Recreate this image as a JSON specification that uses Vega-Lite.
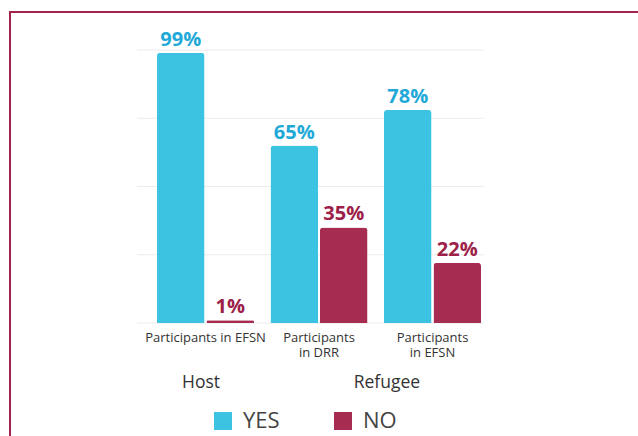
{
  "$schema": "https://vega.github.io/schema/vega-lite/v6.json",
  "width": 640,
  "height": 440,
  "padding": {"left": 10, "top": 12, "right": 0, "bottom": 0},
  "background": "white",
  "config": {
    "view": {"stroke": "#A2244B", "strokeWidth": 2},
    "font": "Open Sans",
    "text": {"font": "Open Sans"}
  },
  "datasets": {
    "bars": [
      {"cat": "Host EFSN", "series": "YES", "value": 99, "label": "99%"},
      {"cat": "Host EFSN", "series": "NO", "value": 1, "label": "1%"},
      {"cat": "Refugee DRR", "series": "YES", "value": 65, "label": "65%"},
      {"cat": "Refugee DRR", "series": "NO", "value": 35, "label": "35%"},
      {"cat": "Refugee EFSN", "series": "YES", "value": 78, "label": "78%"},
      {"cat": "Refugee EFSN", "series": "NO", "value": 22, "label": "22%"}
    ],
    "grid": [{"g": 0}, {"g": 25}, {"g": 50}, {"g": 75}, {"g": 100}],
    "cats": [
      {"cat": "Host EFSN", "name": "Participants in EFSN"},
      {"cat": "Refugee DRR", "name": "Participants\nin DRR"},
      {"cat": "Refugee EFSN", "name": "Participants\nin EFSN"}
    ],
    "host": [{"cat": "Host EFSN", "t": "Host"}],
    "refugee": [{"cat": "Refugee DRR", "t": "Refugee"}]
  },
  "encoding": {
    "x": {
      "field": "cat",
      "type": "nominal",
      "axis": null,
      "scale": {
        "domain": ["Host EFSN", "Refugee DRR", "Refugee EFSN"],
        "range": [147, 471],
        "paddingInner": 0.1454,
        "paddingOuter": 0
      }
    }
  },
  "layer": [
    {
      "data": {"name": "grid"},
      "mark": {"type": "rule", "color": "#ececec", "strokeWidth": 1, "xOffset": -20, "x2Offset": 3},
      "encoding": {
        "x": {"datum": "Host EFSN", "type": "nominal", "bandPosition": 0},
        "x2": {"datum": "Refugee EFSN", "bandPosition": 1},
        "y": {"field": "g", "type": "quantitative", "axis": null, "scale": {"domain": [-47.25, 113.92], "nice": false, "zero": false}}
      }
    },
    {
      "data": {"name": "bars"},
      "mark": {"type": "bar", "cornerRadiusTopLeft": 3, "cornerRadiusTopRight": 3},
      "encoding": {
        "xOffset": {"field": "series", "type": "nominal", "sort": ["YES", "NO"], "scale": {"paddingInner": 0.04}},
        "y": {"field": "value", "type": "quantitative"},
        "color": {
          "field": "series",
          "type": "nominal",
          "sort": ["YES", "NO"],
          "scale": {"domain": ["YES", "NO"], "range": ["#3CC3E1", "#A62C51"]},
          "legend": {
            "title": null,
            "orient": "none",
            "direction": "horizontal",
            "legendX": 202,
            "legendY": 398,
            "symbolType": "square",
            "symbolSize": 324,
            "symbolStrokeWidth": 0,
            "labelFontSize": 22,
            "labelColor": "#444444",
            "labelFont": "Open Sans",
            "labelOffset": 9,
            "columnPadding": 52,
            "padding": 0,
            "encode": {
              "symbols": {"update": {"fill": {"signal": "datum.value === 'YES' ? '#02AAD6' : '#8E1839'"}}}
            }
          }
        }
      }
    },
    {
      "data": {"name": "bars"},
      "mark": {"type": "text", "fontSize": 20, "fontWeight": "bold", "baseline": "alphabetic", "dy": -7},
      "encoding": {
        "xOffset": {"field": "series", "type": "nominal", "sort": ["YES", "NO"]},
        "y": {"field": "value", "type": "quantitative"},
        "text": {"field": "label"},
        "fill": {"condition": {"test": "datum.series === 'YES'", "value": "#1EA9D8"}, "value": "#9C2048"}
      }
    },
    {
      "data": {"name": "cats"},
      "mark": {"type": "text", "fontSize": 13, "color": "#333333", "baseline": "alphabetic", "lineBreak": "\n", "lineHeight": 15, "dy": 18.7},
      "encoding": {
        "y": {"datum": 0, "type": "quantitative"},
        "text": {"field": "name"}
      }
    },
    {
      "data": {"name": "host"},
      "mark": {"type": "text", "fontSize": 17.5, "color": "#333333", "baseline": "alphabetic", "dy": 65},
      "encoding": {
        "x": {"field": "cat", "type": "nominal", "bandPosition": 0.4536},
        "y": {"datum": 0, "type": "quantitative"},
        "text": {"field": "t"}
      }
    },
    {
      "data": {"name": "refugee"},
      "mark": {"type": "text", "fontSize": 17.5, "color": "#333333", "baseline": "alphabetic", "dy": 65},
      "encoding": {
        "x": {"field": "cat", "type": "nominal", "bandPosition": 1.2},
        "y": {"datum": 0, "type": "quantitative"},
        "text": {"field": "t"}
      }
    }
  ]
}
